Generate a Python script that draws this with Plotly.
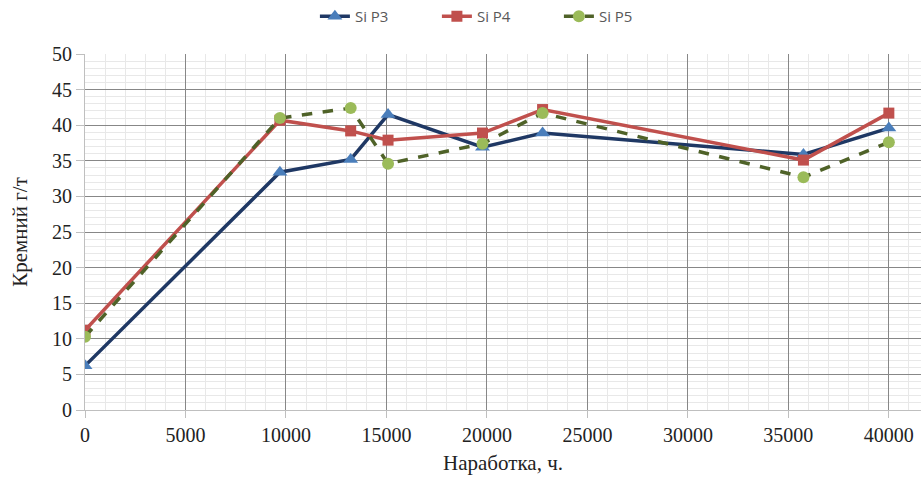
import plotly.graph_objects as go

hours = [0, 9700, 13220, 15080, 19780, 22770, 35750, 40000]
si_p3 = [6.2, 33.4, 35.2, 41.5, 36.9, 38.9, 35.9, 39.6]
si_p4 = [11.2, 40.7, 39.2, 37.9, 38.9, 42.2, 35.1, 41.7]
si_p5 = [10.3, 41.0, 42.4, 34.6, 37.4, 41.7, 32.7, 37.6]

x_ticks = [0, 5000, 10000, 15000, 20000, 25000, 30000, 35000, 40000]
y_ticks = [0, 5, 10, 15, 20, 25, 30, 35, 40, 45, 50]

fig = go.Figure()
fig.add_trace(go.Scatter(
    x=hours, y=si_p3, name="Si P3", mode="lines+markers",
    line=dict(color="#1F3864", width=3.5),
    marker=dict(symbol="triangle-up", size=13, color="#4A7EBB"),
))
fig.add_trace(go.Scatter(
    x=hours, y=si_p4, name="Si P4", mode="lines+markers",
    line=dict(color="#C0504D", width=3.5),
    marker=dict(symbol="square", size=11, color="#C0504D"),
))
fig.add_trace(go.Scatter(
    x=hours, y=si_p5, name="Si P5", mode="lines+markers",
    line=dict(color="#4F6228", width=3.5, dash="dash"),
    marker=dict(symbol="circle", size=12, color="#9BBB59"),
))

serif = "Liberation Serif, DejaVu Serif, serif"
fig.update_layout(
    width=921, height=482,
    margin=dict(l=85, r=0, t=53, b=72),
    paper_bgcolor="white", plot_bgcolor="white",
    showlegend=True,
    legend=dict(orientation="h", x=0.275, xanchor="left", y=1.104, yanchor="middle",
                font=dict(family="Open Sans", size=15, color="#595959"),
                entrywidth=77, entrywidthmode="pixels",
                bgcolor="rgba(0,0,0,0)"),
    xaxis=dict(
        range=[0, 41600], tickmode="array", tickvals=x_ticks,
        ticktext=[str(v) for v in x_ticks],
        showgrid=True, gridcolor="#878787", gridwidth=1,
        minor=dict(dtick=1000, showgrid=True, gridcolor="#E8E8E8", gridwidth=1),
        showline=True, linecolor="#BFBFBF", linewidth=1,
        ticks="outside", ticklen=7, tickcolor="#BFBFBF",
        zeroline=False,
        tickfont=dict(family=serif, size=20, color="#222222"),
        title=dict(text="Наработка, ч.", font=dict(family=serif, size=21, color="#222222"), standoff=10),
    ),
    yaxis=dict(
        range=[0, 50], tickmode="array", tickvals=y_ticks,
        showgrid=True, gridcolor="#878787", gridwidth=1,
        minor=dict(dtick=1, showgrid=True, gridcolor="#E8E8E8", gridwidth=1),
        showline=True, linecolor="#BFBFBF", linewidth=1,
        ticks="outside", ticklen=8, tickcolor="#BFBFBF",
        zeroline=False,
        tickfont=dict(family=serif, size=20, color="#222222"),
        title=dict(text="Кремний г/т", font=dict(family=serif, size=21, color="#222222"), standoff=18),
    ),
)
fig.write_html("out.html")
